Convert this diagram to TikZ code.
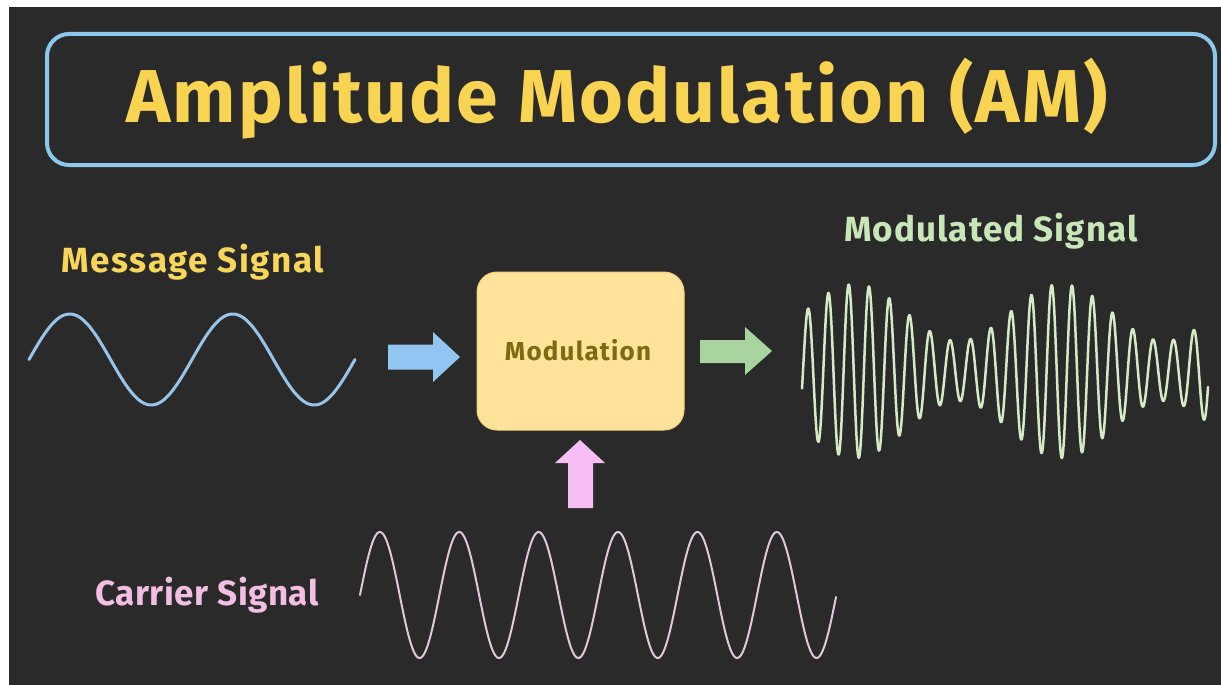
\documentclass[tikz,border=0pt]{standalone}
\usepackage{fontspec}
\setmainfont{Fira Sans}
\definecolor{bgdark}{HTML}{2A2A2A}
\definecolor{titleyel}{HTML}{F9D452}
\definecolor{titleblue}{HTML}{8CC8EE}
\definecolor{msgyel}{HTML}{F7D65A}
\definecolor{msgwave}{HTML}{97C4E8}
\definecolor{arrblue}{HTML}{93C5F3}
\definecolor{arrgreen}{HTML}{A9D4A0}
\definecolor{arrpink}{HTML}{F7BDF5}
\definecolor{boxfill}{HTML}{FFE39A}
\definecolor{boxline}{HTML}{F0D07E}
\definecolor{boxtext}{HTML}{7D6A12}
\definecolor{carrtext}{HTML}{F2BEE3}
\definecolor{carrwave}{HTML}{E2C7DC}
\definecolor{modtext}{HTML}{C9E6B8}
\definecolor{modwave}{HTML}{D4EBC6}
\begin{document}
\begin{tikzpicture}[x=1pt,y=-1pt,
  label35/.style={anchor=base, inner sep=0pt},
  wave/.style={line cap=round, line join=round}]
\useasboundingbox (0,0) rectangle (1221,685);
\fill[white] (0,0) rectangle (1221,685);
\fill[bgdark] (9,7) rectangle (1221,685);
% title
\draw[titleblue, line width=4pt, rounded corners=22pt] (47,34) rectangle (1215,165);
\node[font=\bfseries\fontsize{75}{80}\selectfont\addfontfeatures{LetterSpace=3}, text=titleyel, anchor=base, inner sep=0pt] (title) at (617,122) {Amplitude Modulation (AM)};
% labels
\node[label35, text=msgyel, font=\bfseries\fontsize{35}{40}\selectfont\addfontfeatures{LetterSpace=4.5}] (msglabel) at (193,272) {Message Signal};
\node[label35, text=modtext, font=\bfseries\fontsize{35}{40}\selectfont\addfontfeatures{LetterSpace=3}] (modlabel) at (991,241) {Modulated Signal};
\node[label35, text=carrtext, font=\bfseries\fontsize{35}{40}\selectfont\addfontfeatures{LetterSpace=1.5}] (carrlabel) at (207,605) {Carrier Signal};
% modulation box
\node[draw=boxline, fill=boxfill, line width=1pt, rounded corners=20pt, minimum width=207pt, minimum height=158pt, inner sep=0pt] (modbox) at (580.5,351) {};
\node[font=\bfseries\fontsize{26}{30}\selectfont\addfontfeatures{LetterSpace=4.5}, text=boxtext, anchor=base, inner sep=0pt] (modtxt) at (578,360) {Modulation};
% waves
\draw[wave, msgwave, line width=3pt] plot[domain=29:355, samples=200, smooth] (\x, {359.5 - 45.5*sin(2.20859*(\x-29))});
\draw[wave, carrwave, line width=2pt] plot[domain=360:836, samples=500, smooth] (\x, {595 - 63*sin(4.53401*(\x-360))});
\draw[wave, modwave, line width=2.5pt] plot[domain=802:1208, samples=1200] (\x, {371 - (58.5+28.5*cos(1.74757*(\x-855)))*sin(17.73399*(\x-803))});
% block arrows
\fill[arrblue] (388,344.5) -- (433,344.5) -- (433,332) -- (460,357) -- (433,382) -- (433,369.5) -- (388,369.5) -- cycle;
\fill[arrgreen] (700,340) -- (745,340) -- (745,327) -- (772,351) -- (745,375) -- (745,363) -- (700,363) -- cycle;
\fill[arrpink] (568,508) -- (568,463) -- (555,463) -- (580,440) -- (605,463) -- (593,463) -- (593,508) -- cycle;
\end{tikzpicture}
\end{document}
